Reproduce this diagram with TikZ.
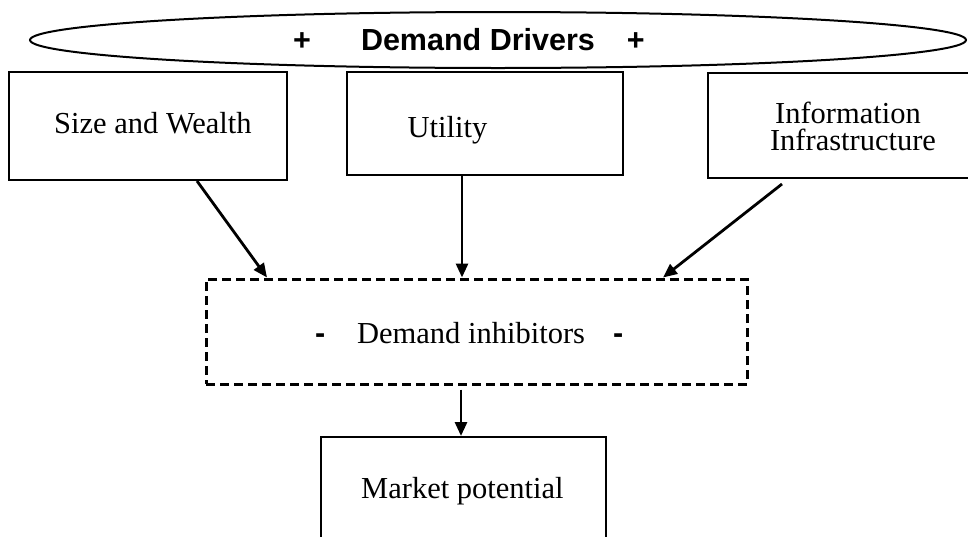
\documentclass[tikz,border=0pt]{standalone}
\usepackage{fontspec}
\setmainfont{Liberation Serif}
\newfontfamily\arialfont{Liberation Sans}
\usetikzlibrary{shapes.geometric,arrows.meta}
\tikzset{
  box/.style={draw, line width=2pt, rectangle, inner sep=0pt},
  dbox/.style={draw, line width=3pt, dash pattern=on 9pt off 5pt, rectangle, inner sep=0pt},
  oval/.style={draw, line width=2pt, ellipse, inner sep=0pt},
  txt/.style={inner sep=0pt, font=\fontsize{30.5}{36}\selectfont},
  arr/.style={line width=2.8pt, -{Triangle[length=14pt,width=12pt]}},
}
\begin{document}
\begin{tikzpicture}[x=1pt,y=-1pt]
\useasboundingbox (0,0) rectangle (968,536);
\clip (0,0) rectangle (968,536);
% ellipse
\node[oval, minimum width=936pt, minimum height=56pt] (drivers) at (498,40) {};
\node[txt, anchor=base west] (driverstxt) at (293,50)
  {\arialfont\bfseries +\hspace{50pt}Demand Drivers\hspace{32pt}+};
% boxes
\node[box, minimum width=278pt, minimum height=108pt] (size) at (148,126) {};
\node[txt, anchor=base west] (sizetxt) at (54,133) {Size and Wealth};
\node[box, minimum width=276pt, minimum height=103pt] (util) at (485,123.5) {};
\node[txt, anchor=base west] (utiltxt) at (407.5,137) {Utility};
\node[box, minimum width=286pt, minimum height=105pt] (info) at (851,125.5) {};
\node[txt, anchor=base, text depth=0pt] (infotxtA) at (848,123) {Information};
\node[txt, anchor=base, text height=20pt] (infotxtB) at (853,150) {Infrastructure};
\node[dbox, minimum width=541pt, minimum height=105pt] (inhib) at (476.5,331.5) {};
\node[txt, anchor=base west] (inhibtxt) at (315,343)
  {{\arialfont\bfseries -}\hspace{31.8pt}Demand inhibitors\hspace{28pt}{\arialfont\bfseries -}};
\node[box, minimum width=285pt, minimum height=105pt] (market) at (463.5,489.5) {};
\node[txt, anchor=base west] (markettxt) at (361,498) {Market potential};
% arrows
\draw[arr] ([xshift=49pt]size.south) -- ([xshift=-209.5pt]inhib.north);
\draw[arr] ([xshift=-23pt]util.south) -- ([xshift=-14.5pt]inhib.north);
\draw[arr] ([xshift=-69pt,yshift=-5pt]info.south) -- ([xshift=186.5pt]inhib.north);
\draw[arr] ([xshift=-15.5pt,yshift=-4pt]inhib.south) -- ([xshift=-2.5pt]market.north);
\end{tikzpicture}
\end{document}
